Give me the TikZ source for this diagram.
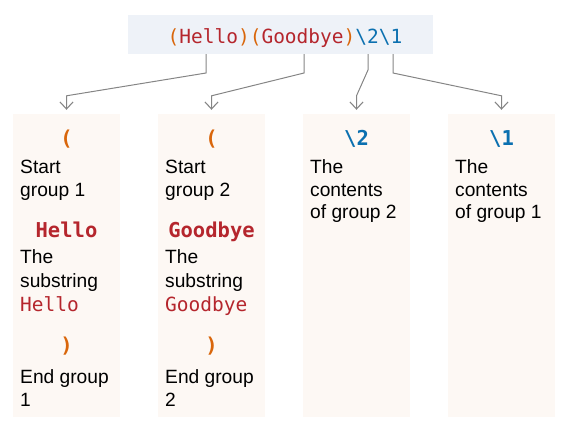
\documentclass[tikz,border=0pt]{standalone}
\usepackage{fontspec}
\setmainfont{Liberation Sans}
\setmonofont{DejaVu Sans Mono}
\usetikzlibrary{arrows.meta}
\definecolor{orangeP}{HTML}{D9660B}
\definecolor{redS}{HTML}{B5262D}
\definecolor{blueB}{HTML}{0B70B0}
\definecolor{topfill}{HTML}{EEF2F8}
\definecolor{colfill}{HTML}{FDF8F4}
\definecolor{arrowgray}{HTML}{858585}
\begin{document}
\begin{tikzpicture}[x=1pt,y=-1pt,
 colbox/.style={fill=colfill, draw=none, minimum width=107pt, minimum height=303pt, inner sep=0pt},
 txt/.style={anchor=base west, inner sep=0pt, font=\fontsize{19.2pt}{22pt}\selectfont},
 sym/.style={anchor=base, inner sep=0pt, font=\fontsize{20.5pt}{22pt}\selectfont\ttfamily\bfseries},
 code/.style={anchor=base west, inner sep=0pt, font=\fontsize{19.5pt}{22pt}\selectfont\ttfamily, text=redS},
 conn/.style={draw=arrowgray, line width=1pt, -{Straight Barb[length=7pt,width=13pt,line width=1.1pt]}, shorten >=4pt}
]
\useasboundingbox (0,0) rectangle (563,439);
% top expression
\node[fill=topfill, minimum width=305pt, minimum height=39pt, inner sep=0pt] (top) at (280.5,34.5) {};
\node[anchor=base, inner sep=0pt, font=\fontsize{19.5pt}{22pt}\selectfont\ttfamily] (expr) at (285,43)
 {\textcolor{orangeP}{(}\textcolor{redS}{Hello}\textcolor{orangeP}{)}\textcolor{orangeP}{(}\textcolor{redS}{Goodbye}\textcolor{orangeP}{)}\textcolor{blueB}{\textbackslash2\textbackslash1}};
% columns
\node[colbox] (c1) at (66.5,265.5) {};
\node[colbox] (c2) at (211.5,265.5) {};
\node[colbox] (c3) at (356.5,265.5) {};
\node[colbox] (c4) at (501.5,265.5) {};
% column 1
\node[sym, text=orangeP] (c1s) at (66.5,145) {(};
\node[txt] (c1a) at (20,173) {Start};
\node[txt] (c1b) at (20,196) {group 1};
\node[sym, text=redS] (c1h) at (66.5,237) {Hello};
\node[txt] (c1c) at (20,263) {The};
\node[txt] (c1d) at (20,287) {substring};
\node[code] (c1e) at (20,311) {Hello};
\node[sym, text=orangeP] (c1p) at (66.5,352) {)};
\node[txt] (c1f) at (20,383) {End group};
\node[txt] (c1g) at (20,406) {1};
% column 2
\node[sym, text=orangeP] (c2s) at (211.5,145) {(};
\node[txt] (c2a) at (165,173) {Start};
\node[txt] (c2b) at (165,196) {group 2};
\node[sym, text=redS] (c2h) at (211.5,237) {Goodbye};
\node[txt] (c2c) at (165,263) {The};
\node[txt] (c2d) at (165,287) {substring};
\node[code] (c2e) at (165,311) {Goodbye};
\node[sym, text=orangeP] (c2p) at (211.5,352) {)};
\node[txt] (c2f) at (165,383) {End group};
\node[txt] (c2g) at (165,406) {2};
% column 3
\node[sym, text=blueB] (c3s) at (356.5,145) {\textbackslash2};
\node[txt] (c3a) at (310,173) {The};
\node[txt] (c3b) at (310,196) {contents};
\node[txt] (c3c) at (310,218) {of group 2};
% column 4
\node[sym, text=blueB] (c4s) at (501.5,145) {\textbackslash1};
\node[txt] (c4a) at (455,173) {The};
\node[txt] (c4b) at (455,196) {contents};
\node[txt] (c4c) at (455,218) {of group 1};
% connectors
\coordinate (s1) at (206,54);
\coordinate (s2) at (304,54);
\coordinate (s3) at (368,54);
\coordinate (s4) at (393,54);
\draw[conn] (s1) -- ++(0,19) -- ([yshift=18pt]c1.north) -- (c1.north);
\draw[conn] (s2) -- ++(0,19) -- ([yshift=18pt]c2.north) -- (c2.north);
\draw[conn] (s3) -- ++(0,16) -- ([yshift=18pt]c3.north) -- (c3.north);
\draw[conn] (s4) -- ++(0,19) -- ([yshift=18pt]c4.north) -- (c4.north);
\end{tikzpicture}
\end{document}
